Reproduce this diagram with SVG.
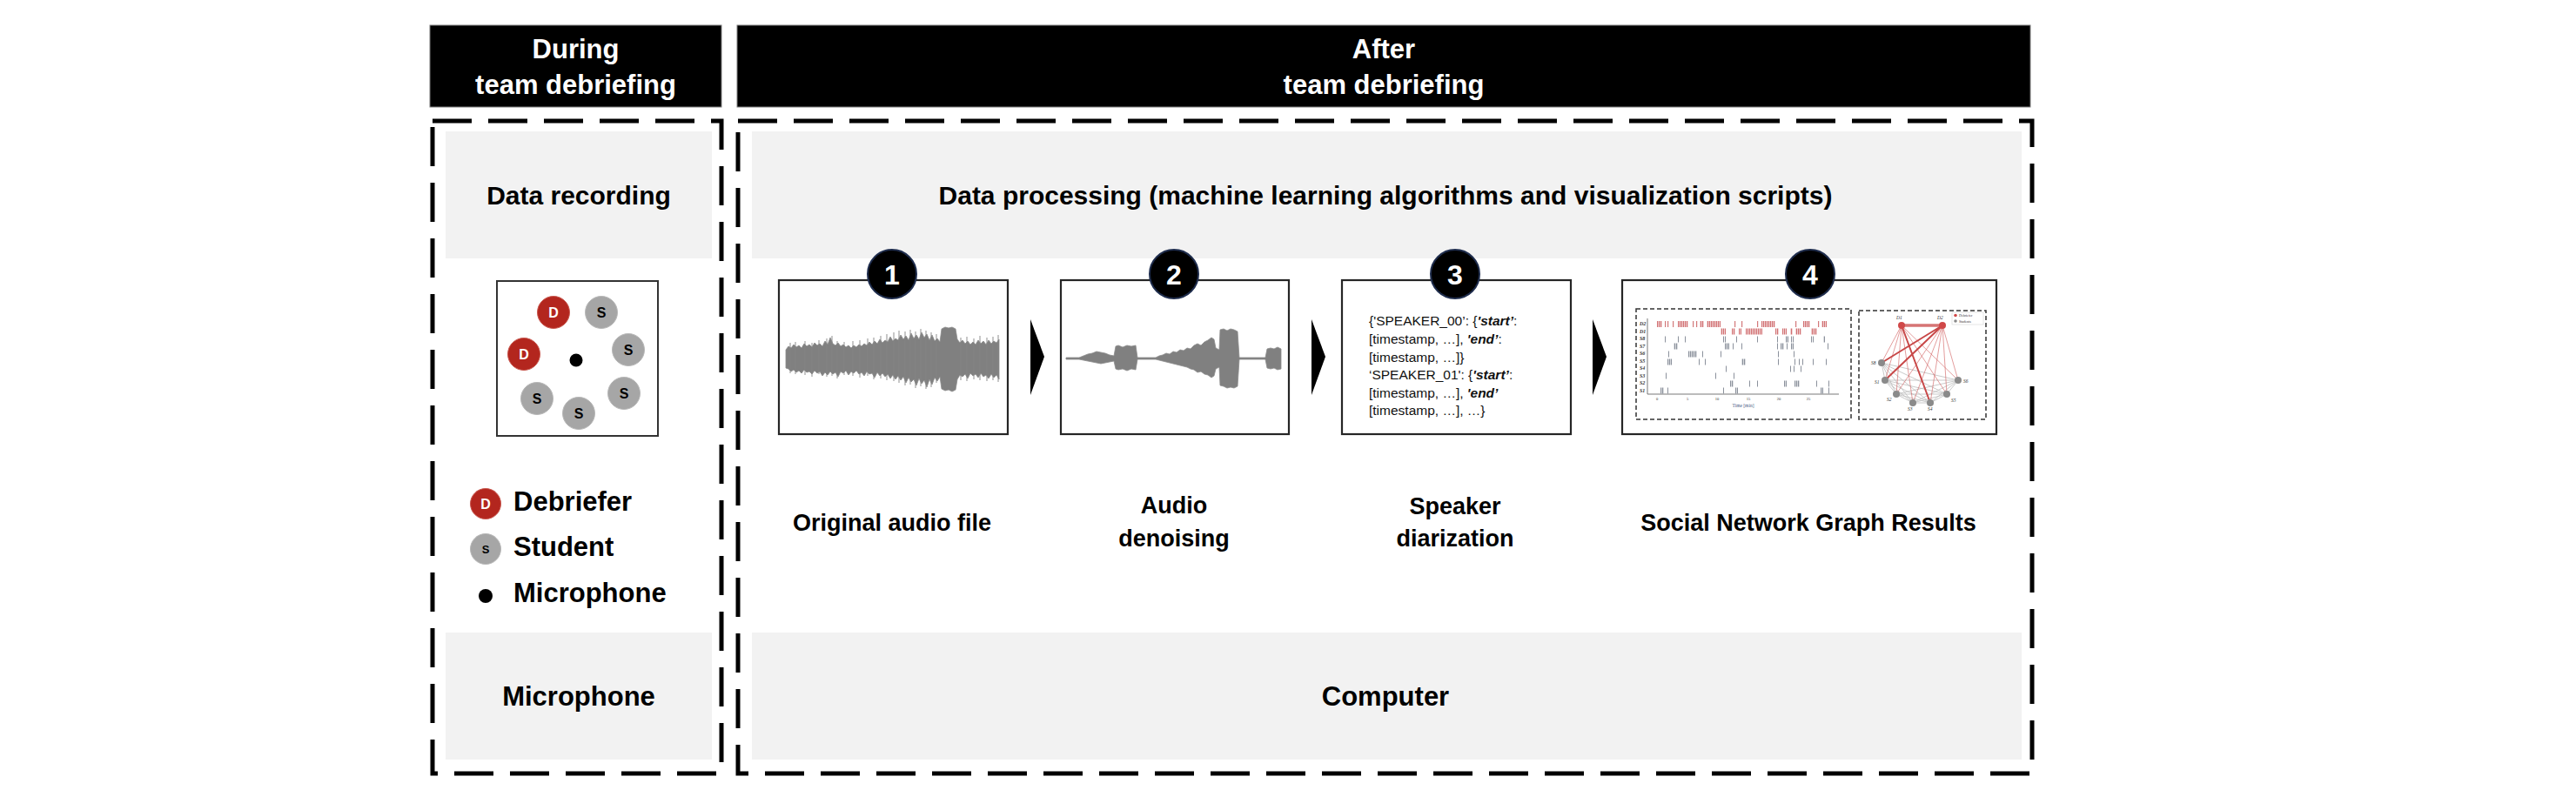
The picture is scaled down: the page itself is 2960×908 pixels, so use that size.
<svg xmlns="http://www.w3.org/2000/svg" width="2960" height="908" viewBox="0 0 2960 908">
<style>
.hdr{fill:#000;stroke:#7f7f7f;stroke-width:1}
.hdrtxt{font-family:"Liberation Sans",Arial,sans-serif;font-weight:bold;font-size:31px;fill:#fff;text-anchor:middle}
.frame{fill:none;stroke:#000;stroke-width:5;stroke-dasharray:45 19}
.band{fill:#f2f2f2}
.lbl{font-family:"Liberation Sans",Arial,sans-serif;font-weight:bold;font-size:30px;fill:#000;text-anchor:middle}
.step{font-size:27px}
.leg{font-family:"Liberation Sans",Arial,sans-serif;font-weight:bold;font-size:31px;fill:#000}
.box{fill:#fff;stroke:#262626;stroke-width:2.2}
.numc{fill:#000;stroke:#1f2d4d;stroke-width:2}
.numt{font-family:"Liberation Sans",Arial,sans-serif;font-weight:bold;font-size:32px;fill:#fff;text-anchor:middle}
.deb{fill:#b3261e;stroke:#c9584f;stroke-width:1}
.stu{fill:#a6a6a6;stroke:#b8b8b8;stroke-width:1}
.ct{font-family:"Liberation Sans",Arial,sans-serif;font-weight:bold;font-size:16px;text-anchor:middle}
.wave{fill:#808080;stroke:#8c8c8c;stroke-width:0.8;stroke-linejoin:round}
.spk{fill:none;stroke:#858585;stroke-width:0.9}
.code{font-family:"Liberation Sans",Arial,sans-serif;font-size:15.5px;fill:#111}
.bi{font-weight:bold;font-style:italic}
.sub{fill:none;stroke:#333;stroke-width:1.5;stroke-dasharray:5 3}
.rb{fill:#c9585a;opacity:0.8}
.gb{fill:#8b919c}
.tiny{font-family:"Liberation Serif","Times New Roman",serif;font-size:5.5px;fill:#333}
.chev{fill:#000}
</style>
<defs>
<pattern id="rstripe" width="2" height="10" patternUnits="userSpaceOnUse"><rect width="1.3" height="10" fill="#c9585a"/></pattern>
<pattern id="gstripe" width="2" height="10" patternUnits="userSpaceOnUse"><rect width="1.3" height="10" fill="#8b919c"/></pattern>
<path id="chevron" d="M0,0 L16,43 L0,87 Z"/>
</defs>

<rect width="2960" height="908" fill="#fff"/>

<g id="header-during">
<rect class="hdr" x="494" y="29" width="335" height="94"/>
<text class="hdrtxt" x="661.5" y="67">During</text>
<text class="hdrtxt" x="661.5" y="108">team debriefing</text>
</g>
<g id="header-after">
<rect class="hdr" x="847" y="29" width="1486" height="94"/>
<text class="hdrtxt" x="1590" y="67">After</text>
<text class="hdrtxt" x="1590" y="108">team debriefing</text>
</g>

<g id="frame-during"><rect class="frame" x="497" y="139" width="332" height="750"/></g>
<g id="frame-after"><rect class="frame" x="848" y="139" width="1487" height="750"/></g>

<g id="data-recording">
<rect class="band" x="512" y="151" width="306" height="146"/>
<text class="lbl" x="665" y="235">Data recording</text>
</g>

<g id="seating">
<rect x="571" y="323" width="185" height="178" fill="#fff" stroke="#333" stroke-width="2"/>
<circle class="deb" cx="636" cy="359" r="18.5"/><text class="ct" x="636" y="365" fill="#fff">D</text>
<circle class="stu" cx="691" cy="359" r="18.5"/><text class="ct" x="691" y="365" fill="#000">S</text>
<circle class="deb" cx="602" cy="407" r="18.5"/><text class="ct" x="602" y="413" fill="#fff">D</text>
<circle cx="662" cy="414" r="7.5" fill="#000"/>
<circle class="stu" cx="722" cy="402" r="18.5"/><text class="ct" x="722" y="408" fill="#000">S</text>
<circle class="stu" cx="617" cy="458" r="18.5"/><text class="ct" x="617" y="464" fill="#000">S</text>
<circle class="stu" cx="665" cy="475" r="18.5"/><text class="ct" x="665" y="481" fill="#000">S</text>
<circle class="stu" cx="717" cy="452" r="18.5"/><text class="ct" x="717" y="458" fill="#000">S</text>
</g>

<g id="legend">
<circle class="deb" cx="558" cy="579" r="17.5"/><text class="ct" x="558" y="585" fill="#fff" font-size="14">D</text>
<text class="leg" x="590" y="587">Debriefer</text>
<circle class="stu" cx="558" cy="631" r="17.5"/><text class="ct" x="558" y="636" fill="#000" style="font-size:13px">S</text>
<text class="leg" x="590" y="639">Student</text>
<circle cx="558" cy="685" r="8" fill="#000"/>
<text class="leg" x="590" y="692">Microphone</text>
</g>

<g id="microphone">
<rect class="band" x="512" y="727" width="306" height="146"/>
<text class="lbl" x="665" y="811" style="font-size:31px">Microphone</text>
</g>

<g id="data-processing">
<rect class="band" x="864" y="151" width="1459" height="146"/>
<text class="lbl" x="1592" y="235">Data processing (machine learning algorithms and visualization scripts)</text>
</g>

<g id="step1">
<rect class="box" x="895" y="322" width="263" height="177"/>
<path class="wave" d="M903,402 906,398 909,400 912,396 915,399 918,397 921,400 924,395 927,398 930,396 933,399 936,394 939,397 942,395 945,398 948,392 951,396 954,388 957,395 960,397 963,394 966,398 969,396 972,399 975,397 978,400 981,397 984,399 987,396 990,398 993,395 996,397 999,393 1002,396 1005,392 1008,395 1011,390 1014,394 1017,391 1020,393 1023,387 1026,392 1029,389 1032,391 1035,385 1038,390 1041,386 1044,391 1047,383 1050,389 1053,385 1056,390 1059,382 1062,388 1065,384 1068,391 1071,385 1074,392 1077,389 1080,393 1082,378 1086,376 1090,377 1094,376 1098,378 1100,390 1103,394 1106,391 1109,395 1112,392 1115,396 1118,393 1121,396 1124,391 1127,395 1130,392 1133,396 1136,391 1139,395 1142,392 1145,394 1148,390 L1148,436 1145,431 1142,434 1139,430 1136,435 1133,431 1130,433 1127,429 1124,434 1121,430 1118,432 1115,429 1112,435 1109,430 1106,433 1103,431 1100,436 1098,448 1094,450 1090,448 1086,449 1082,447 1080,433 1077,438 1074,434 1071,442 1068,436 1065,445 1062,437 1059,441 1056,435 1053,443 1050,436 1047,439 1044,434 1041,440 1038,433 1035,437 1032,432 1029,436 1026,431 1023,435 1020,430 1017,433 1014,429 1011,432 1008,428 1005,434 1002,429 999,430 996,427 993,432 990,428 987,430 984,426 981,429 978,427 975,431 972,426 969,429 966,427 963,433 960,428 957,430 954,427 951,431 948,428 945,432 942,427 939,429 936,426 933,430 930,427 927,428 924,425 921,429 918,426 915,428 912,425 909,427 906,424 903,423 Z"/>
<path class="spk" d="M908 394V429M914 393V430M925 392V431M933 394V433M941 391V430M950 389V433M956 386V432M962 392V435M970 393V431M980 392V432M988 391V434M997 389V432M1004 388V436M1012 386V435M1019 384V437M1027 382V438M1033 380V440M1040 381V443M1046 379V442M1052 381V446M1058 378V444M1064 380V447M1070 382V445M1076 384V440M1104 388V437M1111 387V438M1119 389V436M1126 386V437M1134 388V438M1141 387V437M1147 385V439"/>
<circle class="numc" cx="1025" cy="315" r="28"/>
<text class="numt" x="1025" y="327">1</text>
<text class="lbl step" x="1025" y="610">Original audio file</text>
</g>

<g id="step2">
<rect class="box" x="1219" y="322" width="262" height="177"/>
<path class="wave" d="M1225,411 1240,411 1245,409 1250,407 1255,406 1260,404 1265,405 1270,406 1275,408 1280,409 1282,398 1285,397 1290,399 1295,397 1300,398 1305,397 1307,411 1328,411 1332,409 1336,408 1340,406 1344,407 1348,404 1352,405 1356,402 1360,403 1364,400 1368,401 1372,397 1376,395 1380,397 1384,393 1388,391 1392,388 1395,390 1397,400 1401,402 1402,379 1406,378 1410,380 1414,378 1418,379 1422,381 1424,411 1454,411 1456,401 1460,400 1464,401 1468,399 1472,401 L1472,424 1468,425 1464,423 1460,424 1456,423 1454,413 1424,413 1422,444 1418,446 1414,445 1410,446 1406,444 1402,443 1401,422 1397,424 1395,432 1392,434 1388,431 1384,430 1380,427 1376,428 1372,425 1368,424 1364,422 1360,421 1356,420 1352,419 1348,418 1344,417 1340,416 1336,415 1332,414 1328,413 1307,413 1305,425 1300,424 1295,426 1290,424 1285,425 1282,424 1280,415 1275,416 1270,417 1265,418 1260,417 1255,416 1250,415 1245,414 1240,413 1225,413 Z"/>
<circle class="numc" cx="1349" cy="315" r="28"/>
<text class="numt" x="1349" y="327">2</text>
<text class="lbl step" x="1349" y="590">Audio</text>
<text class="lbl step" x="1349" y="628">denoising</text>
</g>

<g id="step3">
<rect class="box" x="1542" y="322" width="263" height="177"/>
<text class="code" x="1573" y="374">{'SPEAKER_00’: {<tspan class="bi">'start’</tspan>:</text>
<text class="code" x="1573" y="395">[timestamp, …], <tspan class="bi">'end’</tspan>:</text>
<text class="code" x="1573" y="416">[timestamp, …]}</text>
<text class="code" x="1573" y="436">‘SPEAKER_01': {<tspan class="bi">'start’</tspan>:</text>
<text class="code" x="1573" y="457">[timestamp, …], <tspan class="bi">'end’</tspan></text>
<text class="code" x="1573" y="477">[timestamp, …], …}</text>
<circle class="numc" cx="1672" cy="315" r="28"/>
<text class="numt" x="1672" y="327">3</text>
<text class="lbl step" x="1672" y="591">Speaker</text>
<text class="lbl step" x="1672" y="628">diarization</text>
</g>

<g id="step4">
<rect class="box" x="1864" y="322" width="430" height="177"/>
<rect class="sub" x="1880" y="355" width="247" height="127"/>
<rect class="sub" x="2136" y="357" width="146" height="125"/>
<g id="raster">
<path d="M1893,366 V453 H2113" fill="none" stroke="#555" stroke-width="0.8"/>
<g class="tiny" style="font-weight:bold;font-style:italic;font-size:6px">
<text x="1884" y="374">D2</text><text x="1884" y="383">D1</text><text x="1884" y="391">S8</text><text x="1884" y="400">S7</text><text x="1884" y="408">S6</text><text x="1884" y="417">S5</text><text x="1884" y="425">S4</text><text x="1884" y="434">S3</text><text x="1884" y="442">S2</text><text x="1884" y="451">S1</text>
</g>
<g class="tiny" style="font-size:4.5px;text-anchor:middle">
<text x="1904" y="460">0</text><text x="1939" y="460">5</text><text x="1973" y="460">10</text><text x="2009" y="460">15</text><text x="2044" y="460">20</text><text x="2078" y="460">25</text>
</g>
<text class="tiny" x="2003" y="468" style="font-size:5.5px;text-anchor:middle;fill:#4a5a85">Time [min]</text>
<g fill="url(#rstripe)" opacity="0.85">
<rect x="1904" y="369" width="6" height="7"/><rect x="1928" y="369" width="12" height="7"/><rect x="1953" y="369" width="5" height="7"/><rect x="1961" y="369" width="16" height="7"/><rect x="2024" y="369" width="16" height="7"/><rect x="2072" y="369" width="8" height="7"/><rect x="2093" y="369" width="6" height="7"/>
<rect x="1977" y="377.5" width="6" height="7"/><rect x="1990" y="377.5" width="4" height="7"/><rect x="1998" y="377.5" width="3" height="7"/><rect x="2006" y="377.5" width="19" height="7"/><rect x="2040" y="377.5" width="4" height="7"/><rect x="2048" y="377.5" width="5" height="7"/><rect x="2057" y="377.5" width="3" height="7"/><rect x="2063" y="377.5" width="7" height="7"/><rect x="2081" y="377.5" width="7" height="7"/>
</g>
<g class="rb">
<rect x="1913" y="369" width="1.2" height="7"/><rect x="1916" y="369" width="1.2" height="7"/><rect x="1922" y="369" width="1.2" height="7"/><rect x="1945" y="369" width="1.2" height="7"/><rect x="1949" y="369" width="1.2" height="7"/><rect x="1993" y="369" width="1.2" height="7"/><rect x="2001" y="369" width="1.2" height="7"/><rect x="2019" y="369" width="1.2" height="7"/><rect x="2063" y="369" width="1.2" height="7"/><rect x="2089" y="369" width="1.2" height="7"/>
</g>
<g fill="url(#gstripe)">
<rect x="2052" y="386.5" width="3" height="7"/><rect x="2095" y="386.5" width="2" height="7"/>
<rect x="1923" y="394.5" width="5" height="7"/><rect x="1982" y="394.5" width="5" height="7"/><rect x="2046" y="394.5" width="4" height="7"/><rect x="2058" y="394.5" width="3" height="7"/>
<rect x="1940" y="403.5" width="10" height="7"/>
<rect x="1916" y="412.5" width="5" height="7"/><rect x="2001" y="412.5" width="5" height="7"/>
<rect x="1988" y="437.5" width="4" height="7"/><rect x="2050" y="437.5" width="3" height="7"/><rect x="2062" y="437.5" width="6" height="7"/>
<rect x="1908" y="445.5" width="4" height="7"/><rect x="1994" y="445.5" width="3" height="7"/><rect x="2092" y="445.5" width="3" height="7"/>
</g>
<g class="gb">
<rect x="1913" y="386.5" width="1" height="7"/><rect x="1928" y="386.5" width="1" height="7"/><rect x="1936" y="386.5" width="1" height="7"/><rect x="1980" y="386.5" width="1" height="7"/><rect x="1982" y="386.5" width="1" height="7"/><rect x="1995" y="386.5" width="1" height="7"/><rect x="2019" y="386.5" width="1" height="7"/><rect x="2042" y="386.5" width="1" height="7"/><rect x="2058" y="386.5" width="1" height="7"/><rect x="2060" y="386.5" width="1" height="7"/><rect x="2081" y="386.5" width="1" height="7"/><rect x="2083" y="386.5" width="1" height="7"/>
<rect x="1991" y="394.5" width="1" height="7"/><rect x="2001" y="394.5" width="1" height="7"/><rect x="2042" y="394.5" width="1" height="7"/><rect x="2053" y="394.5" width="1" height="7"/><rect x="2100" y="394.5" width="1" height="7"/>
<rect x="1917" y="403.5" width="1" height="7"/><rect x="1956" y="403.5" width="1" height="7"/><rect x="1977" y="403.5" width="1" height="7"/><rect x="2043" y="403.5" width="1" height="7"/><rect x="2061" y="403.5" width="1" height="7"/>
<rect x="1952" y="412.5" width="1" height="7"/><rect x="1959" y="412.5" width="1" height="7"/><rect x="2043" y="412.5" width="1" height="7"/><rect x="2062" y="412.5" width="1" height="7"/><rect x="2067" y="412.5" width="1" height="7"/><rect x="2071" y="412.5" width="1" height="7"/><rect x="2083" y="412.5" width="1" height="7"/><rect x="2098" y="412.5" width="1" height="7"/>
<rect x="1983" y="420.5" width="1" height="7"/><rect x="2057" y="420.5" width="1" height="7"/><rect x="2061" y="420.5" width="1" height="7"/><rect x="2069" y="420.5" width="1" height="7"/>
<rect x="1914" y="428.5" width="1" height="7"/><rect x="1971" y="428.5" width="1" height="7"/><rect x="1992" y="428.5" width="1" height="7"/>
<rect x="2010" y="437.5" width="1" height="7"/><rect x="2019" y="437.5" width="1" height="7"/><rect x="2087" y="437.5" width="1" height="7"/><rect x="2101" y="437.5" width="1" height="7"/>
<rect x="1916" y="445.5" width="1" height="7"/><rect x="1980" y="445.5" width="1" height="7"/><rect x="2101" y="445.5" width="1" height="7"/>
</g>
</g>
<g id="network">
<path d="M2162 417L2166 437M2162 417L2179 453M2162 417L2198 463M2162 417L2218 463M2162 417L2237 453M2162 417L2250 437M2166 437L2179 453M2166 437L2198 463M2166 437L2218 463M2166 437L2237 453M2166 437L2250 437M2179 453L2198 463M2179 453L2218 463M2179 453L2237 453M2179 453L2250 437M2198 463L2218 463M2198 463L2237 453M2198 463L2250 437M2218 463L2237 453M2218 463L2250 437M2237 453L2250 437" stroke="#bdbdbd" stroke-width="0.8" fill="none"/>
<path d="M2185 374L2162 417M2185 374L2166 437M2185 374L2179 453M2185 374L2198 463M2185 374L2237 453M2185 374L2250 437M2232 374L2179 453M2232 374L2198 463M2232 374L2218 463M2232 374L2237 453M2232 374L2250 437" stroke="#d05a5a" stroke-width="0.6" fill="none"/>
<path d="M2185 374L2232 374" stroke="#d67474" stroke-width="3.5"/>
<path d="M2232 374L2162 417M2232 374L2166 437M2185 374L2218 463" stroke="#c84848" stroke-width="2" fill="none"/>
<g fill="#d04848"><circle cx="2185" cy="374" r="4"/><circle cx="2232" cy="374" r="4"/></g>
<g fill="#8a8a8a"><circle cx="2162" cy="417" r="4"/><circle cx="2166" cy="437" r="4"/><circle cx="2179" cy="453" r="4"/><circle cx="2198" cy="463" r="4"/><circle cx="2218" cy="463" r="4"/><circle cx="2237" cy="453" r="4"/><circle cx="2250" cy="437" r="4"/></g>
<g class="tiny" style="font-style:italic">
<text x="2179" y="367">D1</text><text x="2226" y="367">D2</text><text x="2150" y="419">S8</text><text x="2154" y="441">S1</text><text x="2168" y="461">S2</text><text x="2192" y="472">S3</text><text x="2215" y="472">S4</text><text x="2242" y="462">S5</text><text x="2256" y="440">S6</text>
</g>
<rect x="2243" y="359" width="36" height="14" fill="#fff" stroke="#ccc" stroke-width="0.5"/>
<circle cx="2247" cy="362.5" r="1.8" fill="#d04848"/><circle cx="2247" cy="369" r="1.8" fill="#8a8a8a"/>
<text class="tiny" x="2251" y="364" style="font-size:4px">Debriefer</text>
<text class="tiny" x="2251" y="370.5" style="font-size:4px">Students</text>
</g>
<circle class="numc" cx="2080" cy="315" r="28"/>
<text class="numt" x="2080" y="327">4</text>
<text class="lbl step" x="2078" y="610">Social Network Graph Results</text>
</g>

<g id="computer">
<rect class="band" x="864" y="727" width="1459" height="146"/>
<text class="lbl" x="1592" y="811" style="font-size:31px">Computer</text>
</g>

<g id="connectors">
<use href="#chevron" class="chev" x="1184" y="367"/>
<use href="#chevron" class="chev" x="1507" y="367"/>
<use href="#chevron" class="chev" x="1830" y="367"/>
</g>
</svg>
